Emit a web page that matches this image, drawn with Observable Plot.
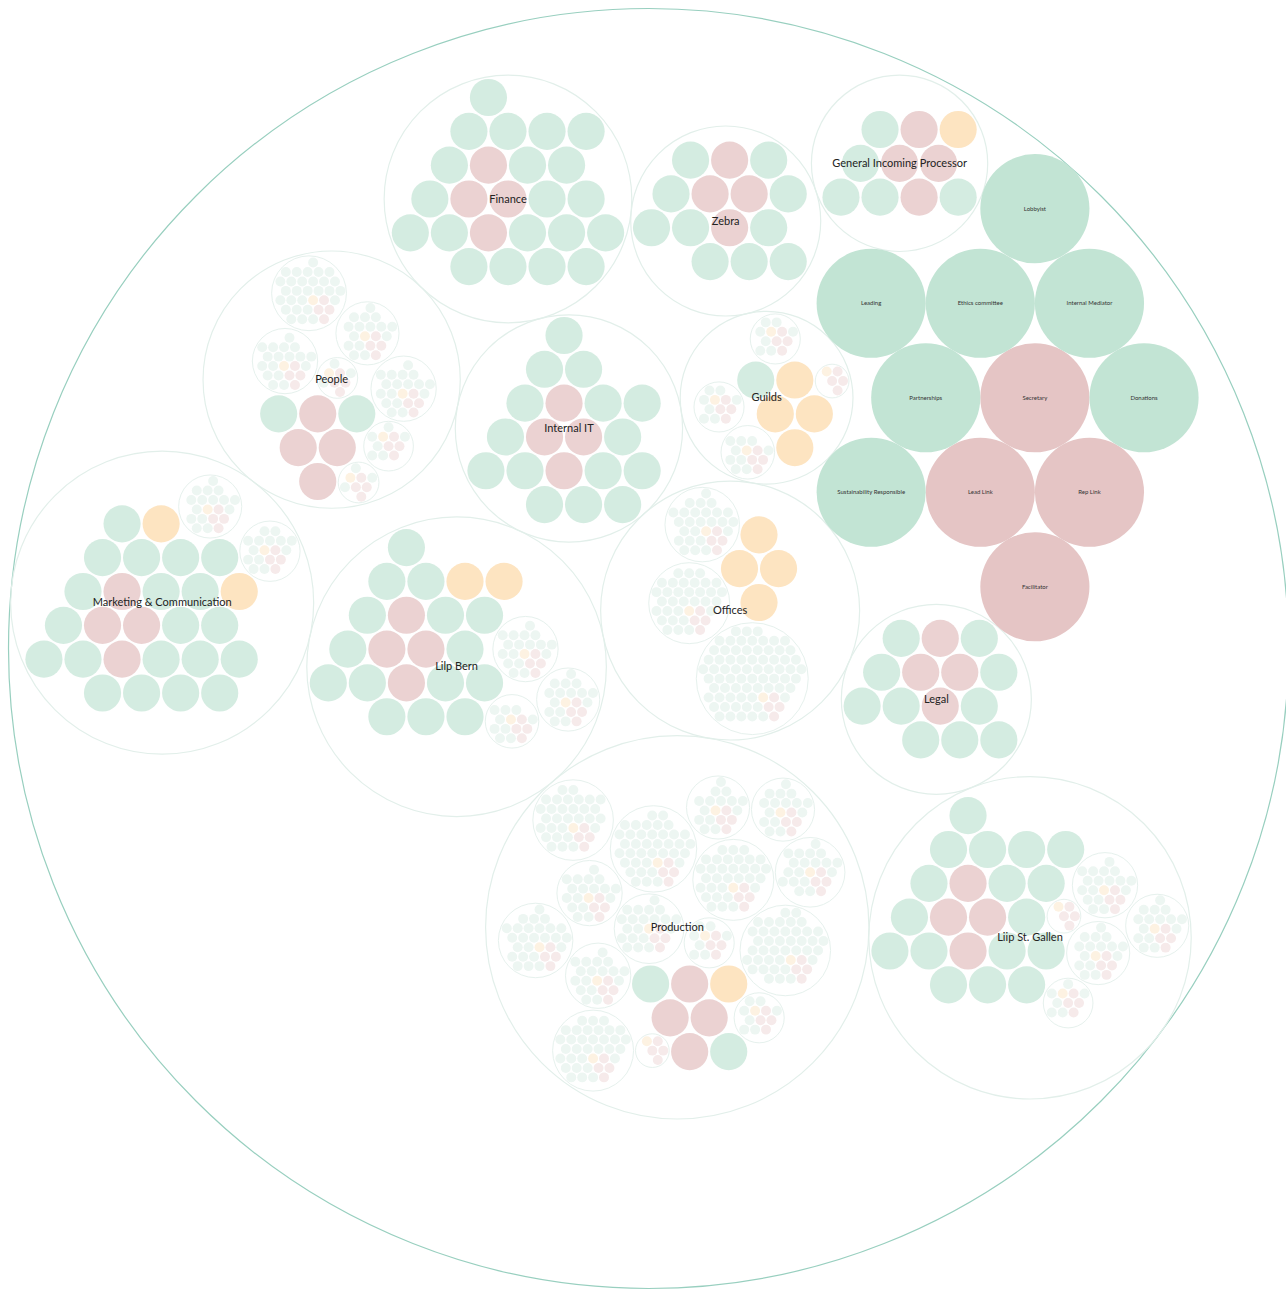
<!DOCTYPE html>
<html>
<head>
<meta charset="utf-8">
<script src="https://cdn.jsdelivr.net/npm/d3@7"></script>
<script src="https://cdn.jsdelivr.net/npm/@observablehq/plot@0.6"></script>
<style>
  html, body { margin: 0; padding: 0; background: #fff; }
  #chart svg { display: block; }
</style>
</head>
<body>
<div id="chart"></div>
<script>
// ---------------- data ----------------
// roles held directly by the top circle (core = pink, role = green)
const rootRoles = ["Lead Link", "Rep Link", "Facilitator", "Secretary", "Partnerships", "Donations",
  "Ethics committee", "Internal Mediator", "Lobbyist", "Leading", "Sustainability Responsible"];
const rootRoleTypes = ["core", "core", "core", "core", "role", "role", "role", "role", "role", "role", "role"];

// sub-circles of the top circle
const circleNames = ["Guilds", "General Incoming Processor", "Zebra", "Offices", "Legal", "Internal IT",
  "Finance", "Lilp Bern", "People", "Marketing & Communication", "Production", "Liip St. Gallen"];
// roles of each sub-circle, as [type, count] runs (core = pink, role = green, link = yellow)
const circleRoles = [
  [["link", 4], ["role", 1]],
  [["core", 4], ["role", 1], ["link", 1], ["role", 4]],
  [["core", 4], ["role", 10]],
  [["link", 4]],
  [["core", 4], ["role", 10]],
  [["core", 4], ["role", 15]],
  [["core", 4], ["role", 20]],
  [["core", 4], ["role", 15], ["link", 2]],
  [["core", 4], ["role", 2]],
  [["core", 4], ["role", 20], ["link", 2]],
  [["core", 4], ["role", 1], ["link", 1], ["role", 1]],
  [["core", 4], ["role", 17]]
];
// number of roles in each nested circle of each sub-circle
const nestedCircles = [
  [5, 14, 12, 12],
  [],
  [],
  [30, 37, 75],
  [],
  [],
  [],
  [22, 14, 20],
  [8, 11, 8, 22, 20, 22, 33],
  [18, 20],
  [5, 12, 12, 45, 37, 25, 43, 23, 19, 20, 22, 22, 30, 37, 35],
  [5, 20, 11, 22, 20]
];

// ---------------- hierarchy ----------------
function nestedCircle(parent, j, n) {
  const kids = [];
  for (let i = 0; i < n; i++) kids.push({name: `${parent} ${j}.${i}`, type: i < 4 ? "core" : (i === 4 ? "link" : "role")});
  return {name: `${parent} ${j}`, children: kids};
}
function subCircle(name, runs, nested) {
  const kids = [];
  runs.forEach(([type, n]) => { for (let i = 0; i < n; i++) kids.push({name: `${name} ${type} ${i}`, type}); });
  nested.forEach((n, j) => kids.push(nestedCircle(name, j, n)));
  return {name, children: kids};
}
const tree = {
  name: "Liip",
  children: [
    ...rootRoles.map((name, i) => ({name, type: rootRoleTypes[i]})),
    ...circleNames.map((name, i) => subCircle(name, circleRoles[i], nestedCircles[i]))
  ]
};

// ---------------- front-chain circle packing (centroid-seeking variant) ----------------
function place(b, a, c) {
  let dx = b.x - a.x, x, a2, dy = b.y - a.y, y, b2, d2 = dx * dx + dy * dy;
  if (d2) {
    a2 = a.r + c.r; a2 *= a2;
    b2 = b.r + c.r; b2 *= b2;
    if (a2 > b2) {
      x = (d2 + b2 - a2) / (2 * d2);
      y = Math.sqrt(Math.max(0, b2 / d2 - x * x));
      c.x = b.x - x * dx - y * dy;
      c.y = b.y - x * dy + y * dx;
    } else {
      x = (d2 + a2 - b2) / (2 * d2);
      y = Math.sqrt(Math.max(0, a2 / d2 - x * x));
      c.x = a.x + x * dx - y * dy;
      c.y = a.y + x * dy + y * dx;
    }
  } else {
    c.x = a.x + c.r; c.y = a.y;
  }
}
function intersects(a, b) {
  const dr = a.r + b.r - 1e-6, dx = b.x - a.x, dy = b.y - a.y;
  return dr > 0 && dr * dr > dx * dx + dy * dy;
}
function ChainNode(circle) { this._ = circle; this.next = null; this.previous = null; }
function score(node, gx, gy) {
  const a = node._, b = node.next._, ab = a.r + b.r;
  const dx = (a.x * b.r + b.x * a.r) / ab - gx, dy = (a.y * b.r + b.y * a.r) / ab - gy;
  return dx * dx + dy * dy;
}
function packSiblings(circles) {
  const n = circles.length;
  if (!n) return 0;
  let a, b, c, i, j, k, sj, sk, aa, ca;
  a = circles[0]; a.x = 0; a.y = 0;
  if (n < 2) return a.r;
  b = circles[1]; a.x = -b.r; b.x = a.r; b.y = 0;
  if (n < 3) { const e = d3.packEnclose([a, b]); a.x -= e.x; b.x -= e.x; a.y -= e.y; b.y -= e.y; return e.r; }
  place(b, a, c = circles[2]);
  let oa = 0, ox = 0, oy = 0;
  for (const q of [a, b, c]) { const w = q.r * q.r; oa += w; ox += w * q.x; oy += w * q.y; }
  a = new ChainNode(a); b = new ChainNode(b); c = new ChainNode(c);
  a.next = c.previous = b;
  b.next = a.previous = c;
  c.next = b.previous = a;
  pack: for (i = 3; i < n; ++i) {
    place(a._, b._, c = circles[i]); c = new ChainNode(c);
    j = b.next; k = a.previous; sj = b._.r; sk = a._.r;
    do {
      if (sj <= sk) {
        if (intersects(j._, c._)) { b = j; a.next = b; b.previous = a; --i; continue pack; }
        sj += j._.r; j = j.next;
      } else {
        if (intersects(k._, c._)) { a = k; a.next = b; b.previous = a; --i; continue pack; }
        sk += k._.r; k = k.previous;
      }
    } while (j !== k.next);
    c.previous = a; c.next = b; a.next = b.previous = b = c;
    const w = c._.r * c._.r; oa += w; ox += w * c._.x; oy += w * c._.y;
    const gx = ox / oa, gy = oy / oa;
    aa = score(a, gx, gy);
    while ((c = c.next) !== b) {
      if ((ca = score(c, gx, gy)) < aa) { a = c; aa = ca; }
    }
    b = a.next;
  }
  const chain = [b._]; c = b; while ((c = c.next) !== b) chain.push(c._);
  const e = d3.packEnclose(chain);
  for (i = 0; i < n; ++i) { circles[i].x -= e.x; circles[i].y -= e.y; }
  return e.r;
}

const leafRadius = [0, 57, 19.4, 5.2];
const padding = [0, 2, 1];
function packNode(node) {
  if (!node.children) { node.r = leafRadius[node.depth]; return; }
  node.children.forEach(packNode);
  const p = (padding[node.depth] || 0) / 2;
  node.children.forEach(ch => ch.r += p);
  const e = packSiblings(node.children);
  node.children.forEach(ch => ch.r -= p);
  node.r = e + p;
}
const root = d3.hierarchy(tree);
packNode(root);
root.x = 0; root.y = 0;
root.eachBefore(d => { if (d.parent) { d.x += d.parent.x; d.y += d.parent.y; } });

const nodes = root.descendants();
const leaves = nodes.filter(d => !d.children);
const groups = nodes.filter(d => d.children);

const fills = {
  1: {core: "#e5c5c5", role: "#c2e4d4", link: "#fde0b5"},
  2: {core: "#ebd2d2", role: "#d4ece1", link: "#fde4c1"},
  3: {core: "#f6eaea", role: "#edf6f2", link: "#fdf2e2"}
};
leaves.forEach(d => d.fill = fills[d.depth][d.data.type]);

const R = root.r;
const C = 648, RR = 640;

const chart = Plot.plot({
  width: 1286,
  height: 1291,
  margin: 0,
  x: {domain: [-R, R], range: [C - RR, C + RR], axis: null},
  y: {domain: [-R, R], range: [C - RR, C + RR], axis: null},
  r: {type: "linear", domain: [0, R], range: [0, RR]},
  color: {type: "identity"},
  style: {background: "#fff"},
  marks: [
    Plot.dot(groups.filter(d => d.depth === 0), {x: "x", y: "y", r: "r", fill: "none", stroke: "#98cfbf", strokeWidth: 1.2, sort: null}),
    Plot.dot(groups.filter(d => d.depth === 1), {x: "x", y: "y", r: "r", fill: "none", stroke: "#e2efea", strokeWidth: 1.2, sort: null}),
    Plot.dot(groups.filter(d => d.depth === 2), {x: "x", y: "y", r: "r", fill: "none", stroke: "#e6f1ed", strokeWidth: 1, sort: null}),
    Plot.dot(leaves, {x: "x", y: "y", r: "r", fill: "fill", stroke: null, sort: null}),
    Plot.text(leaves.filter(d => d.depth === 1), {x: "x", y: "y", text: d => d.data.name, fontSize: 6, fontFamily: "Lato", fill: "#333"}),
    Plot.text(groups.filter(d => d.depth === 1), {x: "x", y: "y", text: d => d.data.name, fontSize: 11, fontFamily: "Lato", fill: "#222"})
  ]
});
document.getElementById("chart").appendChild(chart);
</script>
</body>
</html>
